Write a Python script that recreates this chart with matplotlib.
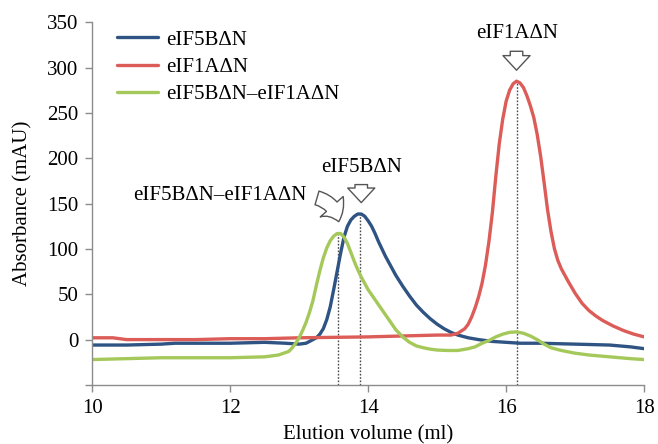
import matplotlib.pyplot as plt
from matplotlib.patches import FancyArrowPatch

# Elution profiles (ml, mAU)
blue_x = [10.0, 10.5, 11.0, 11.2, 11.6, 12.0, 12.5, 12.8, 13.0, 13.1, 13.2, 13.25, 13.3, 13.35, 13.4,
          13.45, 13.5, 13.55, 13.6, 13.65, 13.7, 13.75, 13.8, 13.85, 13.9, 13.95, 14.0, 14.05, 14.1,
          14.15, 14.2, 14.25, 14.3, 14.4, 14.5, 14.6, 14.7, 14.8, 14.9, 15.0, 15.1, 15.2, 15.3, 15.45,
          15.6, 15.8, 16.0, 16.2, 16.5, 17.0, 17.5, 17.8, 18.0]
blue_y = [-6, -6, -5, -4, -4, -4, -3, -4, -5, -4, 0, 2, 6, 12, 22,
          36, 55, 75, 95, 113, 125, 132, 136, 138.5, 138.5, 136, 131, 125, 117,
          108, 100, 92, 85, 71, 59, 48, 38, 30, 23, 17, 12, 8, 5, 2,
          0, -2, -3, -4, -4, -5, -6, -8, -10]

red_x = [10.0, 10.3, 10.5, 11.0, 11.5, 12.0, 12.5, 13.0, 13.5, 14.0, 14.5, 15.0, 15.2, 15.3, 15.4,
         15.45, 15.5, 15.55, 15.6, 15.65, 15.7, 15.75, 15.8, 15.85, 15.9, 15.95, 16.0, 16.05, 16.1,
         16.15, 16.2, 16.25, 16.3, 16.35, 16.4, 16.45, 16.5, 16.55, 16.6, 16.65, 16.7, 16.75, 16.8,
         16.9, 17.0, 17.1, 17.2, 17.3, 17.4, 17.55, 17.7, 17.85, 18.0]
red_y = [2, 2, 0, 0, 0, 1, 1, 2, 2.5, 3, 4, 5, 5, 7, 12,
         17, 25, 35, 47, 62, 82, 108, 140, 180, 216, 243, 263, 275, 282,
         285, 283, 278, 269, 258, 245, 226, 202, 173, 143, 119, 100, 87, 78,
         64, 51, 40, 32, 26, 21, 15, 10, 6, 3]

green_x = [10.0, 10.5, 11.0, 12.0, 12.5, 12.7, 12.85, 12.9, 12.95, 13.0, 13.05, 13.1, 13.15, 13.2, 13.25,
           13.3, 13.35, 13.4, 13.45, 13.5, 13.55, 13.6, 13.65, 13.7, 13.75, 13.8, 13.85, 13.9, 13.95,
           14.0, 14.1, 14.2, 14.3, 14.4, 14.5, 14.6, 14.7, 14.8, 14.9, 15.0, 15.15, 15.3, 15.45, 15.55,
           15.65, 15.75, 15.85, 15.95, 16.05, 16.15, 16.25, 16.35, 16.45, 16.55, 16.65, 16.8, 17.0, 17.2,
           17.5, 17.8, 18.0]
green_y = [-22, -21, -20, -20, -19, -17, -13, -9, -4, 2, 10, 19, 30, 43, 60,
           76, 90, 101, 109, 114, 117, 117, 113, 106, 96, 86, 77, 69, 62,
           55, 44, 33, 22, 11, 3, -3, -7, -9, -10.5, -11.5, -12, -12, -10, -8,
           -4, -1, 3, 6, 8, 8.5, 7, 4, 0, -5, -9, -12, -15, -17,
           -19, -21, -22]

series_labels = ['eIF5BΔN', 'eIF1AΔN', 'eIF5BΔN–eIF1AΔN']
series_colors = ['#2f5483', '#dc5c58', '#a5c85b']

# peak markers (dotted drop lines)
peak_x = [13.57, 13.88, 16.15]
peak_y = [117, 138, 285]

x_ticks = [10, 12, 14, 16, 18]
y_ticks = [-50, 0, 50, 100, 150, 200, 250, 300, 350]
y_tick_labels = ['', '0', '50', '100', '150', '200', '250', '300', '350']

plt.rcParams['font.family'] = ['Liberation Serif', 'DejaVu Serif']
plt.rcParams['font.size'] = 15

fig = plt.figure(figsize=(6.58, 4.44), dpi=100)
ax = fig.add_axes([0.140, 0.133, 0.839, 0.817])

for xs, ys, lab, col in zip([blue_x, red_x, green_x], [blue_y, red_y, green_y], series_labels, series_colors):
    ax.plot(xs, ys, color=col, lw=2.4, label=lab, solid_capstyle='round', solid_joinstyle='round')

ax.vlines(peak_x, -50, peak_y, colors='#4a4a4a', linestyles=(0, (1.2, 1.2)), lw=1.0, zorder=1)

ax.set_xlim(10, 18)
ax.set_ylim(-50, 350)
ax.set_xticks(x_ticks)
ax.set_yticks(y_ticks)
ax.set_yticklabels(y_tick_labels)
ax.set_xlabel('Elution volume (ml)', labelpad=5)
ax.set_ylabel('Absorbance (mAU)', labelpad=10)

for s in ['top', 'right']:
    ax.spines[s].set_visible(False)
for s in ['left', 'bottom']:
    ax.spines[s].set_color('#8c8c8c')
    ax.spines[s].set_linewidth(1.0)
ax.tick_params(colors='#8c8c8c', labelcolor='black', length=5, width=1.0, pad=5)

leg = ax.legend(loc='upper left', bbox_to_anchor=(0.045, 0.978), frameon=False, borderaxespad=0,
                borderpad=0, handlelength=1.95, handletextpad=0.4, labelspacing=0.37)

# annotations with hollow arrows
arrow_kw = dict(arrowstyle='simple,head_length=0.7,head_width=1.3,tail_width=0.6',
                fc='white', ec='#555555', lw=1.0, mutation_scale=15)
ax.text(16.16, 337, 'eIF1AΔN', ha='center', va='center')
ax.add_patch(FancyArrowPatch((16.15, 321), (16.15, 294), **arrow_kw))
ax.text(13.9, 190, 'eIF5BΔN', ha='center', va='center')
ax.add_patch(FancyArrowPatch((13.9, 174), (13.9, 148), **arrow_kw))
ax.text(11.85, 159, 'eIF5BΔN–eIF1AΔN', ha='center', va='center')
ax.add_patch(FancyArrowPatch((13.22, 157), (13.58, 127), connectionstyle='arc3,rad=-0.35',
                             **dict(arrow_kw, mutation_scale=17)))

fig.savefig('out.png', dpi=100)
